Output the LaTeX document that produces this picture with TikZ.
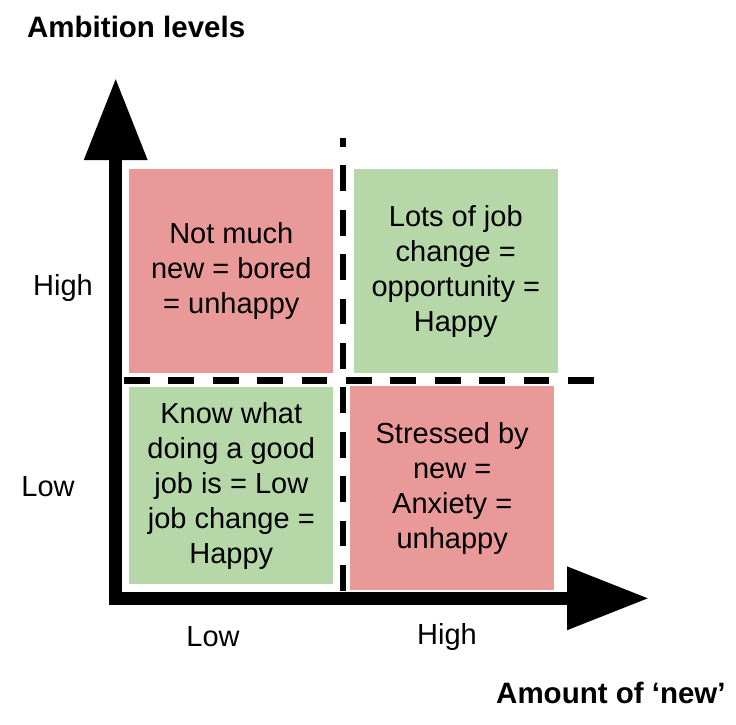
\documentclass[tikz,border=0pt]{standalone}
\usepackage{fontspec}
\setmainfont{Liberation Sans}
\definecolor{badred}{HTML}{EA9999}
\definecolor{goodgreen}{HTML}{B6D7A8}
\usetikzlibrary{arrows.meta,positioning}

\begin{document}
\begin{tikzpicture}[
        x=1pt, y=-1pt,
        quad/.style={rectangle, inner sep=0pt, align=center,
                     font=\fontsize{29}{35}\selectfont},
        bad/.style={quad, fill=badred},
        good/.style={quad, fill=goodgreen},
        lbl/.style={inner sep=0pt, font=\fontsize{29}{32}\selectfont},
        ttl/.style={inner sep=0pt, font=\fontsize{29.5}{32}\selectfont\bfseries},
        axis/.style={line width=13pt, line join=miter,
                     {Triangle[length=82pt,width=60pt]}-{Triangle[length=82pt,width=60pt]}},
        divider/.style={line width=6.5pt, dash pattern=on 25.7pt off 18.7pt}
    ]
        \useasboundingbox (0,0) rectangle (736,724);

        % quadrants
        \node[bad,  minimum width=204pt, minimum height=203.4pt] (ul) at (231.3,271)
            {Not much\\new = bored\\= unhappy};
        \node[good, minimum width=203.7pt, minimum height=203.7pt] (ur) at (455.8,271)
            {Lots of job\\change =\\opportunity =\\Happy};
        \node[good, minimum width=204pt, minimum height=196.7pt] (ll) at (231.3,485.6)
            {Know what\\doing a good\\job is = Low\\job change =\\Happy};
        \node[bad,  minimum width=204.3pt, minimum height=204pt] (lr) at (452.2,488)
            {Stressed by\\new =\\Anxiety =\\unhappy};

        % axes
        \coordinate (origin) at (115.7,598.3);
        \coordinate (ytip)   at (115.7,78);
        \coordinate (xtip)   at (649,598.3);
        \draw[axis] (ytip) -- (origin) -- (xtip);

        % dividers
        \coordinate (vbot) at (343,590.7);
        \coordinate (vtop) at (343,137.7);
        \coordinate (hleft)  at (124,380.7);
        \coordinate (hright) at (594,380.7);
        \draw[divider] (vbot) -- (vtop);
        \draw[divider] (hleft) -- (hright);

        % axis labels
        \node[lbl] (yhigh) at (63,288) {High};
        \node[lbl] (ylow)  at (48,487) {Low};
        \node[lbl] (xlow)  at (213,637) {Low};
        \node[lbl] (xhigh) at (447,637) {High};
        \node[ttl, anchor=base west] (ytitle) at (27,37) {Ambition levels};
        \node[ttl, anchor=base west] (xtitle) at (496,703) {Amount of ‘new’};
\end{tikzpicture}
\end{document}
